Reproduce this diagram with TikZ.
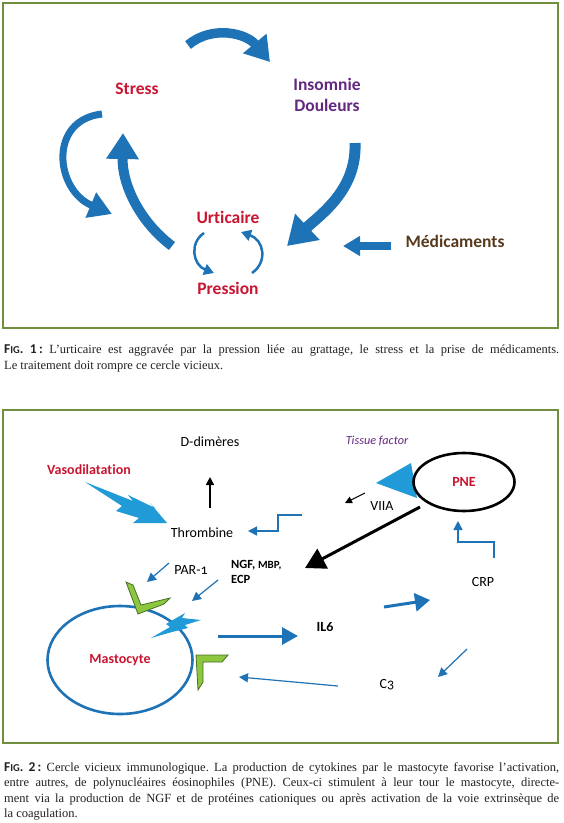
\documentclass[tikz,border=0pt]{standalone}
\usepackage{fontspec}
\setmainfont{Liberation Serif}
\newfontfamily\lblfont{Carlito}[Numbers=OldStyle, Ligatures=NoCommon]
\newfontfamily\figfont{Carlito}
\usetikzlibrary{positioning, calc, arrows.meta, shapes.geometric}
\definecolor{framegreen}{RGB}{112,142,62}
\definecolor{arrowblue}{RGB}{30,115,182}
\definecolor{boltblue}{RGB}{32,155,215}
\definecolor{lblred}{RGB}{200,22,50}
\definecolor{lblpurple}{RGB}{98,40,128}
\definecolor{lblbrown}{RGB}{88,58,30}
\definecolor{recgreen}{RGB}{141,198,63}
\definecolor{recdark}{RGB}{72,112,40}
\definecolor{capgray}{RGB}{35,35,35}
\newcommand{\figtag}[1]{{\figfont\bfseries\fontsize{13.5}{15}\selectfont F{\fontsize{10.5}{11}\selectfont IG}. #1\,:}}
\tikzset{
  boxframe/.style={draw=framegreen, line width=2.2pt},
  cyclelbl/.style={inner sep=0pt, font=\lblfont\bfseries\fontsize{17.5}{21}\selectfont},
  immlbl/.style={inner sep=0pt, font=\lblfont\fontsize{14}{16}\selectfont},
  immbold/.style={inner sep=0pt, font=\lblfont\bfseries\fontsize{14}{16}\selectfont},
  fatarrow/.style={draw=arrowblue, line width=#1},
  thinarrow/.style={draw=arrowblue, line width=1.4pt, -{Triangle[length=9pt,width=9pt]}},
  boltshape/.style={fill=boltblue},
  receptor/.style={fill=recgreen, draw=recdark, line width=0.8pt, line join=miter},
  capt/.style={anchor=north west, inner sep=0pt, text width=555pt, align=justify, font=\frenchspacing\fontsize{12.5}{15.5}\selectfont, text=capgray}
}

\begin{document}
\begin{tikzpicture}[x=1pt, y=-1pt]
      \fill[white] (0,0) rectangle (564,823);
      \useasboundingbox (0,0) rectangle (564,823);

      \draw[boxframe] (3,3) rectangle (558,328);
      \draw[boxframe] (3,410) rectangle (558,743);

      \node[cyclelbl, text=lblred] (stress) at (137,89) {Stress};
      \node[cyclelbl, text=lblpurple] (insom) at (327,84) {Insomnie};
      \node[cyclelbl, text=lblpurple] (doul) at (327,105) {Douleurs};
      \node[cyclelbl, text=lblred] (urt) at (228,217) {Urticaire};
      \node[cyclelbl, text=lblred] (press) at (228,288) {Pression};
      \node[cyclelbl, text=lblbrown] (medic) at (455,241) {Médicaments};

      \coordinate (top-a) at (188,45);
      \coordinate (top-b) at (270,62);
      \coordinate (right-a) at (355,143);
      \coordinate (right-b) at (287,246);
      \coordinate (left-a) at (172,246);
      \coordinate (left-b) at (123,133);
      \coordinate (loop-a) at (102,114);
      \coordinate (loop-b) at (112,214);
      \coordinate (med-a) at (391,246);
      \coordinate (med-b) at (343,246);
      \coordinate (up-a) at (204,233);
      \coordinate (up-b) at (214,273);
      \coordinate (pr-a) at (252,273);
      \coordinate (pr-b) at (241,232);

      \draw[fatarrow=9.5pt, -{Triangle[length=24pt,width=29pt]}] (top-a) .. controls (212,25) and (246,33) .. (top-b);
      \draw[fatarrow=11pt, -{Triangle[length=28pt,width=34pt]}] (right-a) .. controls (357,190) and (320,215) .. (right-b);
      \draw[fatarrow=10pt, -{Triangle[length=26pt,width=31pt]}] (left-a) .. controls (140,222) and (122,185) .. (left-b);
      \draw[fatarrow=7pt, -{Triangle[length=23pt,width=26pt]}] (loop-a) .. controls (48,120) and (55,190) .. (loop-b);
      \draw[fatarrow=8pt, -{Triangle[length=17pt,width=19pt]}] (med-a) -- (med-b);
      \draw[fatarrow=2.5pt, -{Triangle[length=10pt,width=11pt]}] (up-a) .. controls (189,243) and (193,265) .. (up-b);
      \draw[fatarrow=2.5pt, -{Triangle[length=10pt,width=11pt]}] (pr-a) .. controls (268,262) and (264,240) .. (pr-b);

      \node[capt] (cap1) at (4,345) {\figtag{1} L'urticaire est aggravée par la pression liée au grattage, le stress et la prise de médicaments.\linebreak Le traitement doit rompre ce cercle vicieux.};

      \node[immlbl] (ddim) at (210,442) {D-dimères};
      \node[inner sep=0pt, font=\lblfont\itshape\fontsize{12.2}{14}\selectfont, text=lblpurple] (tissue) at (377,441) {Tissue factor};
      \node[immbold, text=lblred] (vaso) at (89,470) {Vasodilatation};
      \node[immlbl] (thromb) at (202,533) {Thrombine};
      \node[immlbl] (viia) at (382,506) {VIIA};
      \node[immlbl] (par) at (191,570) {PAR-1};
      \node[inner sep=0pt, anchor=west, align=left, font=\lblfont\bfseries\fontsize{12.5}{15}\selectfont] (ngf) at (231,572) {NGF, {\fontsize{11}{13}\selectfont MBP,}\\ECP};
      \node[immbold] (il6) at (325,627) {IL6};
      \node[immlbl] (crp) at (483,582) {CRP};
      \node[immlbl] (c3) at (387,685) {C3};

      \fill[boltblue] (376,483) -- (411,463) -- (417,498) -- cycle;
      \node[ellipse, draw=black, line width=2.6pt, minimum width=101pt, minimum height=58pt, inner sep=0pt, font=\lblfont\bfseries\fontsize{14}{16}\selectfont, text=lblred] (pne) at (464,482) {PNE};
      \node[ellipse, draw=arrowblue, line width=2.6pt, minimum width=145pt, minimum height=108pt, inner sep=0pt, font=\lblfont\bfseries\fontsize{14}{16}\selectfont, text=lblred] (mast) at (120,660) {Mastocyte};

      \fill[boltshape] (85,482) -- (133,501) -- (128,495) -- (155,508) -- (150,503) -- (167,523) -- (133,523) -- (139,518) -- (116,511) -- (122,506) -- cycle;
      \fill[boltshape] (151,638) -- (170,627) -- (166,624) -- (185,613) -- (182,618) -- (201,620) -- (185,625) -- (188,628) -- (172,632) -- cycle;
      \filldraw[receptor] (126,582) -- (133,585) -- (141,605) -- (170,598) -- (164,604) -- (138,614) -- cycle;
      \filldraw[receptor] (196,655) -- (228,655) -- (222,662) -- (203,662) -- (203,682) -- (198,690) -- cycle;

      \coordinate (dd-a) at (210,508);
      \coordinate (dd-b) at (210,477);
      \coordinate (th-a) at (302,515);
      \coordinate (th-b) at (248,531);
      \coordinate (vi-a) at (365,493);
      \coordinate (vi-b) at (345,503);
      \coordinate (pn-a) at (420,507);
      \coordinate (pn-b) at (305,568);
      \coordinate (pa-a) at (169,563);
      \coordinate (pa-b) at (147,582);
      \coordinate (ng-a) at (218,580);
      \coordinate (ng-b) at (192,601);
      \coordinate (ma-a) at (218,636);
      \coordinate (ma-b) at (298,636);
      \coordinate (il-a) at (384,607);
      \coordinate (il-b) at (430,600);
      \coordinate (cr-a) at (494,558);
      \coordinate (cr-b) at (458,521);
      \coordinate (cc-a) at (467,649);
      \coordinate (cc-b) at (438,677);
      \coordinate (c3-a) at (338,686);
      \coordinate (c3-b) at (239,677);

      \draw[line width=1.6pt, -{Triangle[length=8pt,width=8pt]}] (dd-a) -- (dd-b);
      \draw[thinarrow] (th-a) -- (278,515) -- (278,531) -- (th-b);
      \draw[line width=1.1pt, -{Triangle[length=7pt,width=7pt]}] (vi-a) -- (vi-b);
      \draw[line width=3pt, -{Triangle[length=20pt,width=22pt]}] (pn-a) -- (pn-b);
      \draw[thinarrow, line width=1.2pt] (pa-a) -- (pa-b);
      \draw[thinarrow, line width=1.2pt] (ng-a) -- (ng-b);
      \draw[fatarrow=3pt, -{Triangle[length=16pt,width=17pt]}] (ma-a) -- (ma-b);
      \draw[fatarrow=3pt, -{Triangle[length=15pt,width=18pt]}] (il-a) -- (il-b);
      \draw[thinarrow] (cr-a) -- (494,542) -- (458,542) -- (cr-b);
      \draw[thinarrow, line width=1.2pt] (cc-a) -- (cc-b);
      \draw[thinarrow, line width=1.2pt] (c3-a) -- (c3-b);

      \node[capt] (cap2) at (4,762) {\figtag{2} Cercle vicieux immunologique. La production de cytokines par le mastocyte favorise l'activation,\linebreak entre autres, de polynucléaires éosinophiles (PNE). Ceux-ci stimulent à leur tour le mastocyte, directe-\linebreak ment via la production de NGF et de protéines cationiques ou après activation de la voie extrinsèque de\linebreak la coagulation.};
\end{tikzpicture}
\end{document}
